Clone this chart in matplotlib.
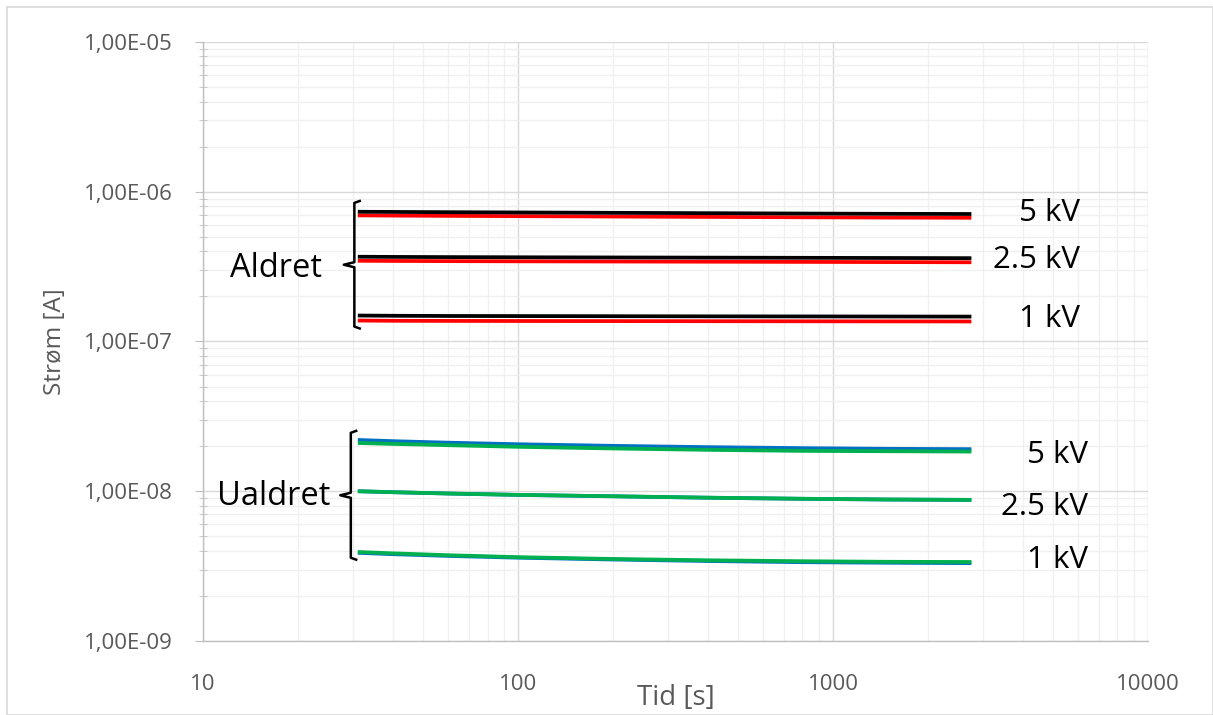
import matplotlib
matplotlib.use("Agg")
import matplotlib.pyplot as plt
from matplotlib.ticker import FixedLocator, FuncFormatter, LogLocator, NullFormatter
from matplotlib.patches import Rectangle

plt.rcParams["font.family"] = ["Open Sans", "DejaVu Sans"]

# time axis (s)
t = [31, 40, 60, 100, 200, 400, 800, 1500, 2750]

# aged samples (Aldret): black and red runs per voltage
aldret_black = {
    "5 kV": [7.35e-7, 7.33e-7, 7.30e-7, 7.27e-7, 7.23e-7, 7.19e-7, 7.15e-7, 7.12e-7, 7.10e-7],
    "2.5 kV": [3.68e-7, 3.67e-7, 3.66e-7, 3.65e-7, 3.64e-7, 3.63e-7, 3.62e-7, 3.61e-7, 3.60e-7],
    "1 kV": [1.49e-7, 1.485e-7, 1.48e-7, 1.478e-7, 1.475e-7, 1.472e-7, 1.47e-7, 1.468e-7, 1.466e-7],
}
aldret_red = {
    "5 kV": [6.95e-7, 6.93e-7, 6.90e-7, 6.87e-7, 6.83e-7, 6.79e-7, 6.75e-7, 6.72e-7, 6.70e-7],
    "2.5 kV": [3.46e-7, 3.45e-7, 3.44e-7, 3.43e-7, 3.42e-7, 3.41e-7, 3.40e-7, 3.39e-7, 3.38e-7],
    "1 kV": [1.38e-7, 1.375e-7, 1.372e-7, 1.37e-7, 1.368e-7, 1.366e-7, 1.364e-7, 1.362e-7, 1.36e-7],
}

# unaged samples (Ualdret): blue and green runs per voltage
ualdret_blue = {
    "5 kV": [2.20e-8, 2.16e-8, 2.11e-8, 2.06e-8, 2.01e-8, 1.97e-8, 1.94e-8, 1.92e-8, 1.91e-8],
    "2.5 kV": [1.00e-8, 0.985e-8, 0.965e-8, 0.945e-8, 0.925e-8, 0.905e-8, 0.89e-8, 0.88e-8, 0.875e-8],
    "1 kV": [3.88e-9, 3.80e-9, 3.70e-9, 3.60e-9, 3.50e-9, 3.42e-9, 3.36e-9, 3.33e-9, 3.31e-9],
}
ualdret_green = {
    "5 kV": [2.10e-8, 2.07e-8, 2.03e-8, 1.98e-8, 1.93e-8, 1.89e-8, 1.86e-8, 1.85e-8, 1.84e-8],
    "2.5 kV": [1.00e-8, 0.986e-8, 0.966e-8, 0.946e-8, 0.926e-8, 0.906e-8, 0.891e-8, 0.881e-8, 0.876e-8],
    "1 kV": [3.93e-9, 3.85e-9, 3.74e-9, 3.63e-9, 3.53e-9, 3.46e-9, 3.41e-9, 3.38e-9, 3.37e-9],
}

x_ticks = [10, 100, 1000, 10000]
y_ticks = [1e-9, 1e-8, 1e-7, 1e-6, 1e-5]

GRAY_TXT = "#595959"

fig = plt.figure(figsize=(12.13, 7.15), dpi=100)
fig.patches.append(Rectangle((0.006, 0.0), 0.994, 0.99, transform=fig.transFigure,
                             fill=False, edgecolor="#D9D9D9", linewidth=1.2))
ax = fig.add_axes([0.1674, 0.1035, 0.7790, 0.8378])
ax.set_xscale("log")
ax.set_yscale("log")
ax.set_xlim(10, 10000)
ax.set_ylim(1e-9, 1e-5)

lw = 2.7
for key in aldret_black:
    ax.plot(t, aldret_red[key], color="#FF0000", lw=lw, solid_capstyle="butt")
    ax.plot(t, aldret_black[key], color="black", lw=lw, solid_capstyle="butt")
for key in ualdret_blue:
    ax.plot(t, ualdret_blue[key], color="#0070C0", lw=lw, solid_capstyle="butt")
    ax.plot(t, ualdret_green[key], color="#00B050", lw=lw, solid_capstyle="butt")

# grid and axes styling
ax.xaxis.set_major_locator(FixedLocator(x_ticks))
ax.yaxis.set_major_locator(FixedLocator(y_ticks))
ax.xaxis.set_minor_locator(LogLocator(base=10, subs=range(2, 10)))
ax.yaxis.set_minor_locator(LogLocator(base=10, subs=range(2, 10)))
ax.xaxis.set_minor_formatter(NullFormatter())
ax.yaxis.set_minor_formatter(NullFormatter())
ax.xaxis.set_major_formatter(FuncFormatter(lambda v, p: f"{int(v)}"))
ax.yaxis.set_major_formatter(FuncFormatter(lambda v, p: ("%.2E" % v).replace(".", ",")))
ax.grid(which="major", color="#D9D9D9", lw=1.0)
ax.grid(which="minor", color="#F0F0F0", lw=1.0)
ax.set_axisbelow(True)
for s in ["top", "right"]:
    ax.spines[s].set_visible(False)
for s in ["left", "bottom"]:
    ax.spines[s].set_color("#BFBFBF")
    ax.spines[s].set_linewidth(1.0)
ax.tick_params(axis="y", which="major", length=6, color="#BFBFBF", labelsize=16,
               labelcolor=GRAY_TXT, pad=16)
ax.tick_params(axis="y", which="minor", length=6, color="#BFBFBF", direction="inout")
ax.tick_params(axis="x", which="both", length=0, labelsize=16, labelcolor=GRAY_TXT, pad=24)

ax.set_ylabel("Strøm [A]", fontsize=17.5, color=GRAY_TXT, labelpad=12)
ax.set_xlabel("Tid [s]", fontsize=20, color=GRAY_TXT, labelpad=-8)


def bracket(ax, x, ylo, yhi, label, gap, dy):
    # "{" style bracket on log axes, with the group label left of its tip
    ymid = (ylo * yhi) ** 0.5
    k = 1.04
    xs = [x * k, x, x, x / 1.08, x, x, x * k]
    ys = [yhi, yhi / 1.03, ymid * 1.04, ymid, ymid / 1.04, ylo * 1.03, ylo]
    ax.plot(xs, ys, color="black", lw=1.8, solid_joinstyle="round")
    ax.annotate(label, (x / 1.08, ymid), xytext=(-gap, dy), textcoords="offset points",
                ha="right", va="center", fontsize=23.5, color="black")


bracket(ax, t[0] * 0.975, aldret_red["1 kV"][0] * 0.885, aldret_black["5 kV"][0] * 1.18,
        "Aldret", 16, -3)
bracket(ax, t[0] * 0.95, ualdret_blue["1 kV"][0] * 0.90, ualdret_blue["5 kV"][0] * 1.15,
        "Ualdret", 7, -1)

for key, dy in zip(aldret_black, [2, 0, 0]):
    yv = (aldret_black[key][-1] * aldret_red[key][-1]) ** 0.5
    ax.annotate(key, (6080, yv), xytext=(0, dy), textcoords="offset points",
                ha="right", va="center", fontsize=22.5, color="black")
for key, dy in zip(ualdret_blue, [-3, -5, 2]):
    yv = (ualdret_blue[key][-1] * ualdret_green[key][-1]) ** 0.5
    ax.annotate(key, (6460, yv), xytext=(0, dy), textcoords="offset points",
                ha="right", va="center", fontsize=22.5, color="black")

fig.savefig("out.png", dpi=100)
